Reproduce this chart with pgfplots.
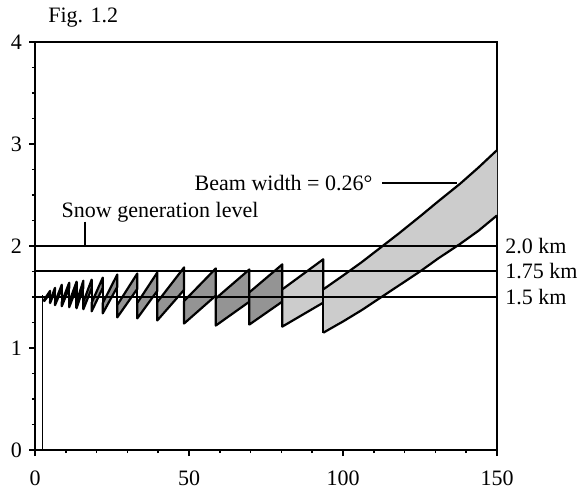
\documentclass[border=0pt]{standalone}
\usepackage{fontspec}
\setmainfont{Liberation Serif}
\usepackage{pgfplots}
\pgfplotsset{compat=1.18}
\definecolor{stip}{gray}{0.58}
\definecolor{beamgray}{gray}{0.80}
\begin{document}
\begin{tikzpicture}[font=\fontsize{11}{13}\selectfont]
\begin{axis}[
  scale only axis, width=231pt, height=204pt,
  xmin=0, xmax=150, ymin=0, ymax=4,
  xtick={0,50,100,150}, ytick={0,1,2,3,4},
  minor xtick={10,20,30,40,60,70,80,90,110,120,130,140},
  minor ytick={0.25,0.5,0.75,1.25,1.5,1.75,2.25,2.5,2.75,3.25,3.5,3.75},
  tick align=outside, tick pos=left,
  major tick length=3pt, minor tick length=1.6pt,
  axis line style={line width=0.75pt},
  every tick/.style={line width=0.75pt, black},
  clip=false,
  /pgf/number format/assume math mode=true,
  ticklabel style={font=\fontsize{11}{13}\selectfont},
  xticklabel style={yshift=-4pt},
  unbounded coords=jump,
]
% thin vertical line near radar
\addplot[black, line width=0.75pt] coordinates {(2.5,0) (2.5,1.52)};
% stippled teeth
\pgfplotsset{tooth/.style={draw=black, line width=1.1pt, line join=round, fill=stip}}
\addplot[tooth] coordinates {(3,1.46) (4.9,1.538) (4.9,1.56) (3,1.474)} -- cycle;
\addplot[tooth] coordinates {(4.9,1.44) (6.5,1.56) (6.5,1.59) (4.9,1.462)} -- cycle;
\addplot[tooth] coordinates {(6.5,1.42) (8.7,1.58) (8.7,1.62) (6.5,1.45)} -- cycle;
\addplot[tooth] coordinates {(8.7,1.41) (11.1,1.59) (11.1,1.64) (8.7,1.45)} -- cycle;
\addplot[tooth] coordinates {(11.1,1.40) (13.5,1.589) (13.5,1.65) (11.1,1.45)} -- cycle;
\addplot[tooth] coordinates {(13.5,1.39) (15.7,1.589) (15.7,1.66) (13.5,1.451)} -- cycle;
\addplot[tooth] coordinates {(15.7,1.38) (18.4,1.586) (18.4,1.67) (15.7,1.451)} -- cycle;
\addplot[tooth] coordinates {(18.4,1.36) (22,1.59) (22,1.69) (18.4,1.444)} -- cycle;
\addplot[tooth] coordinates {(22,1.34) (26.7,1.599) (26.7,1.72) (22,1.44)} -- cycle;
\addplot[tooth] coordinates {(26.7,1.30) (33.2,1.579) (33.2,1.73) (26.7,1.421)} -- cycle;
\addplot[tooth] coordinates {(33.2,1.29) (39.7,1.56) (39.7,1.74) (33.2,1.441)} -- cycle;
\addplot[tooth] coordinates {(39.7,1.27) (48.4,1.57) (48.4,1.79) (39.7,1.45)} -- cycle;
\addplot[tooth] coordinates {(48.4,1.24) (58.7,1.514) (58.7,1.78) (48.4,1.46)} -- cycle;
\addplot[tooth] coordinates {(58.7,1.22) (69.6,1.454) (69.6,1.77) (58.7,1.486)} -- cycle;
\addplot[tooth] coordinates {(69.6,1.23) (80.3,1.455) (80.3,1.82) (69.6,1.546)} -- cycle;
% gray part
\addplot[tooth, fill=beamgray] coordinates {(80.3,1.21) (93.6,1.445) (93.6,1.87) (80.3,1.575)} -- cycle;
\addplot[draw=none, fill=beamgray] coordinates {(93.6,1.15) (100,1.26) (106,1.37) (112,1.49) (118,1.61) (125,1.75) (131,1.88) (138,2.02) (144,2.15) (150,2.30) (150,2.94) (144,2.77) (138,2.61) (131,2.44) (125,2.29) (118,2.12) (112,1.98) (106,1.84) (100,1.71) (93.6,1.575)} -- cycle;
\addplot[black, line width=1.1pt, line join=round] coordinates {(93.6,1.15) (100,1.26) (106,1.37) (112,1.49) (118,1.61) (125,1.75) (131,1.88) (138,2.02) (144,2.15) (150,2.30)};
\addplot[black, line width=1.1pt, line join=round] coordinates {(93.6,1.575) (100,1.71) (106,1.84) (112,1.98) (118,2.12) (125,2.29) (131,2.44) (138,2.61) (144,2.77) (150,2.94)};
% vertical drops
\addplot[black, line width=1.1pt] coordinates {
(4.9,1.56) (4.9,1.44) (4.9,nan)
(6.5,1.59) (6.5,1.42) (6.5,nan)
(8.7,1.62) (8.7,1.41) (8.7,nan)
(11.1,1.64) (11.1,1.40) (11.1,nan)
(13.5,1.65) (13.5,1.39) (13.5,nan)
(15.7,1.66) (15.7,1.38) (15.7,nan)
(18.4,1.67) (18.4,1.36) (18.4,nan)
(22.0,1.69) (22.0,1.34) (22.0,nan)
(26.7,1.72) (26.7,1.30) (26.7,nan)
(33.2,1.73) (33.2,1.29) (33.2,nan)
(39.7,1.74) (39.7,1.27) (39.7,nan)
(48.4,1.79) (48.4,1.24) (48.4,nan)
(58.7,1.78) (58.7,1.22) (58.7,nan)
(69.6,1.77) (69.6,1.23) (69.6,nan)
(80.3,1.82) (80.3,1.21) (80.3,nan)
(93.6,1.87) (93.6,1.15)
};
% reference levels
\addplot[black, line width=1pt] coordinates {(0,2) (150,2)};
\addplot[black, line width=1pt] coordinates {(0,1.755) (150,1.755)};
\addplot[black, line width=1pt] coordinates {(0,1.5) (150,1.5)};
% leaders
\addplot[black, line width=0.8pt] coordinates {(16.2,2.24) (16.2,2.0)};
\addplot[black, line width=1pt] coordinates {(112.7,2.62) (137,2.62)};
% labels
\node[anchor=west, inner sep=0pt] at (axis cs:152.6,2.0) {2.0 km};
\node[anchor=west, inner sep=0pt] at (axis cs:152.6,1.75) {1.75 km};
\node[anchor=west, inner sep=0pt] at (axis cs:152.6,1.5) {1.5 km};
\node[inner sep=0pt] at (axis cs:40.6,2.33) {Snow generation level};
\node[inner sep=0pt] at (axis cs:80.7,2.62) {Beam width = 0.26\textdegree};
\node[anchor=west, inner sep=0pt] at ([xshift=6.5pt,yshift=12pt]rel axis cs:0,1) {Fig. 1.2};
\end{axis}
\pgfresetboundingbox
\path (-17.5pt,-19pt) rectangle (276.5pt,225pt);
\end{tikzpicture}
\end{document}
